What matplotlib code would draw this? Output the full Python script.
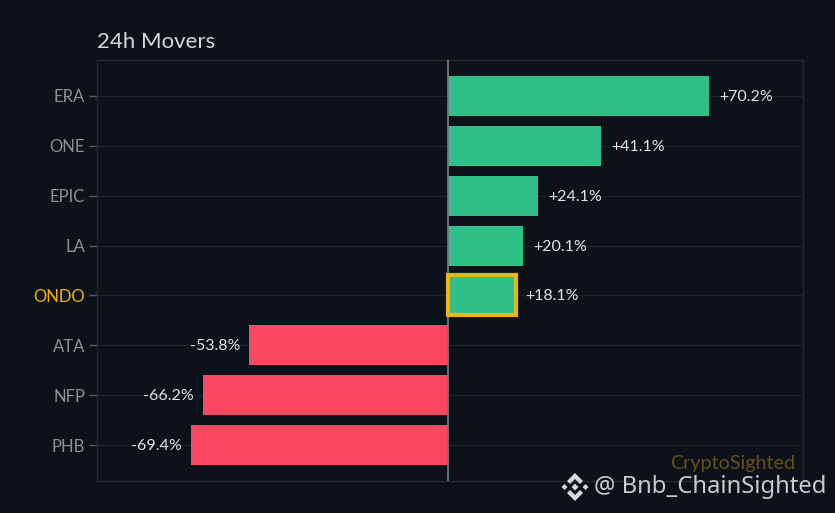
import matplotlib
matplotlib.use('Agg')
from matplotlib import pyplot as plt
from matplotlib.patches import Polygon, Rectangle

symbols = ['ERA', 'ONE', 'EPIC', 'LA', 'ONDO', 'ATA', 'NFP', 'PHB']
changes = [70.2, 41.1, 24.1, 20.1, 18.1, -53.8, -66.2, -69.4]
highlight = 'ONDO'

BG = '#0d1119'
GREEN = '#2fc088'
RED = '#fa4860'
GOLD = '#ecb60c'
GRID = '#1c2029'
SPINE = '#242831'

W, H = 835, 513
plt.rcParams['font.family'] = ['Lato', 'DejaVu Sans']

fig = plt.figure(figsize=(W / 100, H / 100), dpi=100, facecolor=BG)
ax = fig.add_axes([97 / W, 1 - 481 / H, (803 - 97) / W, (481 - 60) / H], facecolor=BG)

pos = list(range(len(symbols)))
colors = [GREEN if c > 0 else RED for c in changes]
ax.barh(pos, changes, height=0.8, color=colors, zorder=3)

ax.set_xlim(-94.74, 95.55)
ax.set_ylim(7.72, -0.72)
ax.set_xticks([])
ax.set_yticks(pos)
ax.set_yticklabels(symbols, fontsize=12)
ax.tick_params(axis='y', length=6, width=1, color='#555a62', labelcolor='#8d9096', pad=2.5)
ax.grid(axis='y', color=GRID, linewidth=1, zorder=0)
ax.set_axisbelow(True)
for s in ax.spines.values():
    s.set_color(SPINE)
    s.set_linewidth(1)

ax.axvline(0, color='#70757d', linewidth=1.3, zorder=4)

# value labels
for i, c in enumerate(changes):
    label = '{:+.1f}%'.format(c)
    if c > 0:
        ax.annotate(label, (c, i), xytext=(10, -1), textcoords='offset pixels',
                    ha='left', va='center', color='#e2e3e5', fontsize=11.5, zorder=5)
    else:
        ax.annotate(label, (c, i), xytext=(-9, -1), textcoords='offset pixels',
                    ha='right', va='center', color='#e2e3e5', fontsize=11.5, zorder=5)

# highlighted symbol
h = symbols.index(highlight)
ax.get_yticklabels()[h].set_color(GOLD)
ax.add_patch(Rectangle((0, h - 0.4), changes[h], 0.8, fill=False, edgecolor=GOLD,
                       linewidth=3, zorder=6))

fig.text(97 / W, 1 - 42 / H, '24h Movers', color='#d6d7d9', fontsize=16, ha='left', va='center')
fig.text(795 / W, 1 - 463 / H, 'CryptoSighted', color='#66501a', fontsize=14.2, ha='right', va='center')

# watermark
fig.text(594 / W, 1 - 487 / H, '@ Bnb_ChainSighted', color='#c9cacc', fontsize=17.2,
         family='Noto Sans', ha='left', va='center')
cx, cy = 575, 487
top = [(0, -14), (8, -6), (5, -3), (0, -8), (-5, -3), (-8, -6)]
bottom = [(x, -y) for x, y in top]
centre = [(0, -3.5), (3.5, 0), (0, 3.5), (-3.5, 0)]
left = [(-10.5, -3), (-7.5, 0), (-10.5, 3), (-13.5, 0)]
right = [(-x, y) for x, y in left]
for shape in [top, bottom, centre, left, right]:
    fig.add_artist(Polygon([((cx + x) / W, 1 - (cy + y) / H) for x, y in shape], closed=True,
                           transform=fig.transFigure, facecolor='#d8d9db', edgecolor='none'))

plt.savefig('out.png', dpi=100, facecolor=BG)
